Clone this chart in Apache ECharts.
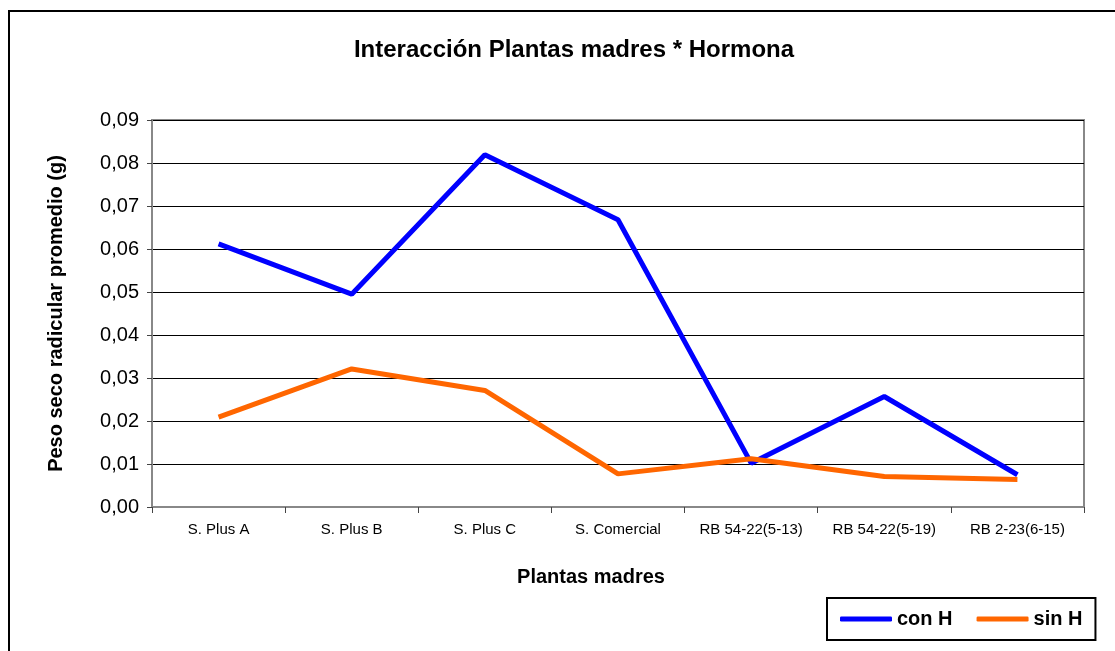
<!DOCTYPE html>
<html lang="es">
<head>
    <meta charset="UTF-8">
    <title>Interacción Plantas madres * Hormona</title>
    <script src="https://cdn.jsdelivr.net/npm/echarts@6/dist/echarts.min.js"></script>
    <style>
        body { margin: 0; background: #fff; }
    </style>
</head>
<body>
    <div id="main" style="width: 1115px;height: 651px;"></div>
    <script>
        // datos
        var plantas = ['S. Plus A', 'S. Plus B', 'S. Plus C', 'S. Comercial', 'RB 54-22(5-13)', 'RB 54-22(5-19)', 'RB 2-23(6-15)']
        var conH = [0.0612, 0.0495, 0.0819, 0.0668, 0.0102, 0.0257, 0.0075]
        var sinH = [0.0209, 0.0321, 0.0271, 0.0077, 0.0112, 0.0071, 0.0064]
        var yMin = 0, yMax = 0.09, yStep = 0.01

        var font = 'Arial, "Liberation Sans", sans-serif'
        var myChart = echarts.init(document.getElementById('main'))
        var option = {
            backgroundColor: '#fff',
            animation: false,
            // marco exterior del grafico
            graphic: [{
                type: 'rect',
                shape: { x: 9, y: 11, width: 1120, height: 700 },
                style: { fill: 'none', stroke: '#000', lineWidth: 2 },
                silent: true
            }],
            title: {
                text: 'Interacción Plantas madres * Hormona',
                left: 569,
                top: 33,
                textAlign: 'center',
                textStyle: { fontFamily: font, fontSize: 24, fontWeight: 'bold', color: '#000' }
            },
            legend: {
                data: ['con H', 'sin H'],
                left: 827,
                top: 598,
                padding: [11, 13, 11, 13],
                borderColor: '#000',
                borderWidth: 2,
                icon: 'roundRect',
                itemWidth: 52,
                itemHeight: 5,
                itemGap: 24,
                textStyle: { fontFamily: font, fontSize: 20, fontWeight: 'bold', color: '#000' }
            },
            grid: {
                left: 152,
                right: 31,
                top: 120,
                bottom: 144,
                show: true,
                borderColor: '#888',
                borderWidth: 2
            },
            xAxis: {
                type: 'category',
                data: plantas,
                name: 'Plantas madres',
                nameLocation: 'middle',
                nameGap: 60,
                nameTextStyle: { fontFamily: font, fontSize: 20, fontWeight: 'bold', color: '#000', padding: [0, 54, 0, 0] },
                axisLine: { lineStyle: { color: '#888', width: 2 } },
                axisTick: { show: true, length: 6, interval: 0, lineStyle: { color: '#444' } },
                axisLabel: { fontFamily: font, fontSize: 15, color: '#000', margin: 15, interval: 0 }
            },
            yAxis: {
                type: 'value',
                min: yMin,
                max: yMax,
                interval: yStep,
                name: 'Peso seco radicular promedio (g)',
                nameLocation: 'middle',
                nameGap: 86,
                nameTextStyle: { fontFamily: font, fontSize: 20, fontWeight: 'bold', color: '#000' },
                axisLine: { show: true, lineStyle: { color: '#888', width: 2 } },
                axisTick: { show: true, length: 5, lineStyle: { color: '#444' } },
                axisLabel: {
                    fontFamily: font, fontSize: 20, color: '#000', margin: 13,
                    formatter: function (v) { return v.toFixed(2).replace('.', ',') }
                },
                splitLine: { show: true, lineStyle: { color: '#000', width: 1 } }
            },
            series: [
                {
                    name: 'con H',
                    type: 'line',
                    data: conH,
                    symbol: 'none',
                    color: '#0000ff',
                    lineStyle: { width: 5, color: '#0000ff' }
                },
                {
                    name: 'sin H',
                    type: 'line',
                    data: sinH,
                    symbol: 'none',
                    color: '#ff6600',
                    lineStyle: { width: 5, color: '#ff6600' }
                }
            ]
        }
        myChart.setOption(option)
    </script>
</body>
</html>
